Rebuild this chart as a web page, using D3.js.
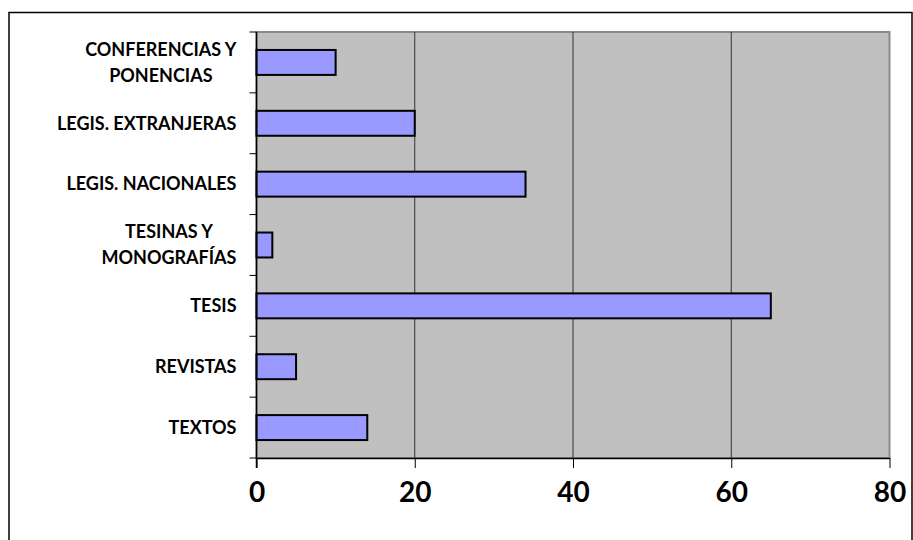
<!DOCTYPE html>
<html>
<head>
<meta charset="utf-8">
<script src="https://cdn.jsdelivr.net/npm/d3@7"></script>
<style>
  body { margin: 0; background: #fff; }
  svg { display: block; }
</style>
</head>
<body>
<svg id="chart"></svg>
<script>
// data (top to bottom)
const categories = [
  ["CONFERENCIAS Y", "PONENCIAS"],
  ["LEGIS. EXTRANJERAS"],
  ["LEGIS. NACIONALES"],
  ["TESINAS Y", "MONOGRAFÍAS"],
  ["TESIS"],
  ["REVISTAS"],
  ["TEXTOS"]
];
const values = [10, 20, 34, 2, 65, 5, 14];
const xTicks = [0, 20, 40, 60, 80];

const W = 913, H = 540;
const margin = { top: 32, right: 23.5, bottom: 82, left: 256.5 };
const width = W - margin.left - margin.right;
const height = H - margin.top - margin.bottom;

const svg = d3.select("#chart").attr("width", W).attr("height", H);

// outer chart border
svg.append("rect")
  .attr("x", 9).attr("y", 12.5)
  .attr("width", 903).attr("height", 540)
  .attr("fill", "none").attr("stroke", "#000").attr("stroke-width", 1.5);

const g = svg.append("g").attr("transform", `translate(${margin.left},${margin.top})`);

const keys = categories.map((c, i) => i);
const x = d3.scaleLinear().domain([0, 80]).range([0, width]);
const y = d3.scaleBand().domain(keys).range([0, height]).paddingInner(0.59).paddingOuter(0.295);
const yb = d3.scaleBand().domain(keys).range([0, height]);

// plot area
g.append("rect")
  .attr("x", 0).attr("y", 0).attr("width", width).attr("height", height)
  .attr("fill", "#c0c0c0").attr("stroke", "#8a8a8a").attr("stroke-width", 2);

// grid
g.selectAll("line.grid")
  .data(xTicks.filter(t => t > 0 && t < 80))
  .enter().append("line")
  .attr("class", "grid")
  .attr("x1", d => x(d)).attr("x2", d => x(d))
  .attr("y1", 0).attr("y2", height)
  .attr("stroke", "#333").attr("stroke-width", 1);

// bars
g.selectAll("rect.bar")
  .data(values)
  .enter().append("rect")
  .attr("class", "bar")
  .attr("x", 0)
  .attr("y", (d, i) => y(i))
  .attr("width", d => x(d))
  .attr("height", y.bandwidth())
  .attr("fill", "#9999ff")
  .attr("stroke", "#000").attr("stroke-width", 2);

// x axis
const xAxis = g.append("g")
  .attr("transform", `translate(0,${height})`)
  .call(d3.axisBottom(x).tickValues(xTicks).tickSize(10).tickPadding(14).tickSizeOuter(0));
xAxis.select(".domain").attr("stroke", "#000").attr("stroke-width", 1.5);
xAxis.selectAll(".tick line").attr("stroke", "#000");
xAxis.selectAll(".tick text")
  .attr("font-family", "Lato, 'Open Sans', sans-serif")
  .attr("font-weight", "bold").attr("font-size", 28).attr("fill", "#000");

// y axis: tick marks on band edges
const yAxis = g.append("g");
yAxis.append("line")
  .attr("x1", 0).attr("x2", 0).attr("y1", 0).attr("y2", height + 10)
  .attr("stroke", "#000").attr("stroke-width", 1.5);
yAxis.selectAll("line.ytick")
  .data(keys.concat([keys.length]))
  .enter().append("line")
  .attr("class", "ytick")
  .attr("x1", -7).attr("x2", 0)
  .attr("y1", d => d < keys.length ? yb(d) : height)
  .attr("y2", d => d < keys.length ? yb(d) : height)
  .attr("stroke", "#000").attr("stroke-width", 1);

// category labels: lines centred, block right aligned
const lineH = 26;
const labels = g.append("g")
  .attr("font-family", "Lato, 'Open Sans', sans-serif")
  .attr("font-weight", "bold").attr("font-size", 18).attr("fill", "#000");
categories.forEach((lines, i) => {
  const cy = yb(i) + yb.bandwidth() / 2;
  const t = labels.append("text").attr("text-anchor", "middle");
  lines.forEach((s, j) => {
    t.append("tspan").text(s)
      .attr("y", cy + (j - (lines.length - 1) / 2) * lineH)
      .attr("dy", "0.35em");
  });
  let maxW = 0;
  t.selectAll("tspan").each(function () { maxW = Math.max(maxW, this.getComputedTextLength()); });
  t.selectAll("tspan").attr("x", -20 - maxW / 2);
});
</script>
</body>
</html>
